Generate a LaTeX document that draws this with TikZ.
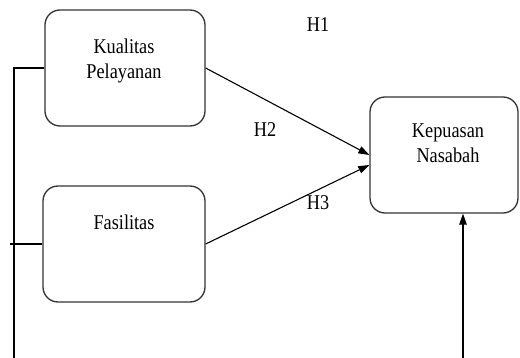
\documentclass[tikz,border=0pt]{standalone}
\usepackage{fontspec}
\setmainfont{Liberation Serif}[FakeStretch=0.87]
\usetikzlibrary{arrows.meta}
\begin{document}
\begin{tikzpicture}[x=1pt,y=1pt,
  box/.style={draw=black!80,line width=1.3pt,rounded corners=15pt,minimum width=#1,minimum height=116pt,inner sep=0pt},
  lbl/.style={font=\fontsize{21}{25}\selectfont,align=center,inner sep=0pt},
  conn/.style={line width=1.1pt,black},
  arr/.style={conn,-{Triangle[length=11pt,width=7.5pt]}}]
\useasboundingbox (0,0) rectangle (520,-358);
\node[box=160pt] (b1) at (125,-68) {};
\node[box=162pt] (b2) at (124,-244) {};
\node[box=148pt] (b3) at (444,-155) {};
\node[lbl,anchor=north] (t1) at (124,-38.5) {Kualitas\\Pelayanan};
\node[lbl,anchor=north] (t2) at (124,-214.5) {Fasilitas};
\node[lbl,anchor=north] (t3) at (448,-124) {Kepuasan\\Nasabah};
\node[lbl] (h1) at (318,-25) {H1};
\node[lbl] (h2) at (265,-130) {H2};
\node[lbl] (h3) at (318,-203) {H3};
\coordinate (bl) at (14,-358);
\coordinate (br) at (463,-358);
\coordinate (t3in) at ([yshift=-10pt]b3.west);
\draw[conn] (b1.west) -| (bl);
\draw[conn] (b2.west) -- ++(-32,0);
\draw[arr] (b1.east) -- (b3.west);
\draw[arr] (b2.east) -- (t3in);
\draw[arr] (br) -- (br |- b3.south);
\end{tikzpicture}
\end{document}
